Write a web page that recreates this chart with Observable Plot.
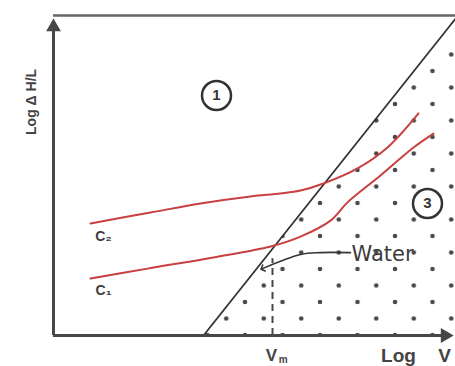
<!DOCTYPE html>
<html>
<head>
<meta charset="utf-8">
<script src="https://cdn.jsdelivr.net/npm/d3@7"></script>
<script src="https://cdn.jsdelivr.net/npm/@observablehq/plot@0.6"></script>
<style>
  html, body { margin: 0; padding: 0; background: white; }
</style>
</head>
<body>
<div id="chart"></div>
<script>
// Axes: x = Log V, y = Log ΔH/L (schematic units 0–10)
const xLabel = "Log V";
const yLabel = "Log Δ H/L";

// Critical line separating region 1 and region 3
const diagX = [3.75, 10.05];
const diagY = [0, 9.9];

// Curve C1 (lower)
const c1X = [0.925, 2.35, 4.0, 5.425, 6.175, 6.925, 7.35, 8.175, 9.0, 9.5];
const c1Y = [1.78, 2.09, 2.44, 2.78, 3.09, 3.59, 4.16, 5.0, 5.875, 6.31];

// Curve C2 (upper)
const c2X = [0.925, 2.425, 3.675, 4.925, 5.675, 6.175, 6.75, 7.6, 8.35, 9.125];
const c2Y = [3.5, 3.844, 4.125, 4.344, 4.4375, 4.53, 4.75, 5.22, 5.875, 6.94];

// Water pointer path
const waterX = [7.425, 6.675, 6.175, 5.225];
const waterY = [2.59, 2.59, 2.53, 2.09];

// Vm
const vmX = 5.475;
const vmTop = 2.4;

// Region labels
const regionNames = ["1", "3"];
const regionX = [4.075, 9.35];
const regionY = [7.5, 4.125];

// Curve labels
const curveNames = ["C₂", "C₁"];
const curveLabelX = [1.25, 1.25];
const curveLabelY = [3.1, 1.4];

const zip = (xs, ys) => xs.map((x, i) => ({x, y: ys[i]}));
const diag = zip(diagX, diagY);
const c1 = zip(c1X, c1Y);
const c2 = zip(c2X, c2Y);
const water = zip(waterX, waterY);
const regions = regionNames.map((t, i) => ({t, x: regionX[i], y: regionY[i]}));
const curveLabels = curveNames.map((t, i) => ({t, x: curveLabelX[i], y: curveLabelY[i]}));

const axisColor = "#474747";
const red = "#c8403f";
const font = "'Liberation Sans', Arial, sans-serif";

const svg = Plot.plot({
  width: 455,
  height: 366,
  marginLeft: 53,
  marginRight: 2,
  marginTop: 15,
  marginBottom: 31,
  x: {domain: [0, 10], axis: null},
  y: {domain: [0, 10], axis: null},
  style: {background: "white", fontFamily: font, overflow: "visible"},
  marks: [
    // dotted region 3
    Plot.areaY(diag, {x: "x", y: "y", fill: "url(#dots)"}),
    // top border
    Plot.ruleY([10], {x1: 0, x2: 10.05, stroke: "#666", strokeWidth: 2.5}),
    // Vm dashed line
    Plot.ruleX([vmX], {y1: 0, y2: vmTop, stroke: axisColor, strokeWidth: 2, strokeDasharray: "7,5"}),
    // critical line
    Plot.line(diag, {x: "x", y: "y", stroke: "#333", strokeWidth: 1.8}),
    // curves
    Plot.line(c2, {x: "x", y: "y", stroke: red, strokeWidth: 2, curve: "catmull-rom"}),
    Plot.line(c1, {x: "x", y: "y", stroke: red, strokeWidth: 2, curve: "catmull-rom"}),
    // water pointer
    Plot.line(water, {x: "x", y: "y", stroke: "#333", strokeWidth: 1.6, curve: "catmull-rom", markerEnd: "arrow"}),
    Plot.text(["Water"], {x: 7.45, y: 2.53, textAnchor: "start", fontSize: 21, fontFamily: "'DejaVu Sans', sans-serif", fill: "#3c3c3c"}),
    // axes
    Plot.ruleX([0], {y1: 0, y2: 9.6, stroke: axisColor, strokeWidth: 3}),
    Plot.ruleY([0], {x1: 0, x2: 9.8, stroke: axisColor, strokeWidth: 3}),
    Plot.dot([{x: 0, y: 9.64}], {x: "x", y: "y", symbol: "triangle", r: 5.5, fill: axisColor, stroke: "none"}),
    Plot.dot([{x: 9.79, y: 0}], {x: "x", y: "y", symbol: "triangle", r: 5.5, rotate: 90, fill: axisColor, stroke: "none"}),
    // region labels
    Plot.dot(regions, {x: "x", y: "y", r: 14.5, stroke: "#333", strokeWidth: 2.5, fill: "white"}),
    Plot.text(regions, {x: "x", y: "y", text: "t", fontSize: 15, fontWeight: "bold", fill: "#333"}),
    // curve labels
    Plot.text(curveLabels, {x: "x", y: "y", text: "t", fontSize: 14, fontWeight: "bold", fill: "#3c3c3c"}),
    // axis labels
    Plot.text([yLabel], {x: -0.55, y: 7.3, rotate: -90, fontSize: 14, fontWeight: "bold", fill: "#444"}),
    Plot.text(["Log"], {x: 8.625, y: -0.625, fontSize: 19, fontWeight: "bold", fill: "#444"}),
    Plot.text(["V"], {x: 9.775, y: -0.625, fontSize: 19, fontWeight: "bold", fill: "#444"}),
    Plot.text(["V"], {x: 5.45, y: -0.625, fontSize: 17, fontWeight: "bold", fill: "#444"}),
    Plot.text(["m"], {x: 5.74, y: -0.75, fontSize: 10, fontWeight: "bold", fill: "#444"})
  ]
});

// dot pattern definition
const NS = "http://www.w3.org/2000/svg";
const defs = document.createElementNS(NS, "defs");
const pat = document.createElementNS(NS, "pattern");
pat.setAttribute("id", "dots");
pat.setAttribute("patternUnits", "userSpaceOnUse");
pat.setAttribute("x", "207.5");
pat.setAttribute("y", "335");
pat.setAttribute("width", "37.5");
pat.setAttribute("height", "33");
[[0, 0], [37.5, 0], [0, 33], [37.5, 33], [18.75, 16.5]].forEach(([cx, cy]) => {
  const c = document.createElementNS(NS, "circle");
  c.setAttribute("cx", cx);
  c.setAttribute("cy", cy);
  c.setAttribute("r", "2.3");
  c.setAttribute("fill", "#4a4a4a");
  pat.appendChild(c);
});
defs.appendChild(pat);
svg.insertBefore(defs, svg.firstChild);

document.getElementById("chart").appendChild(svg);
</script>
</body>
</html>
